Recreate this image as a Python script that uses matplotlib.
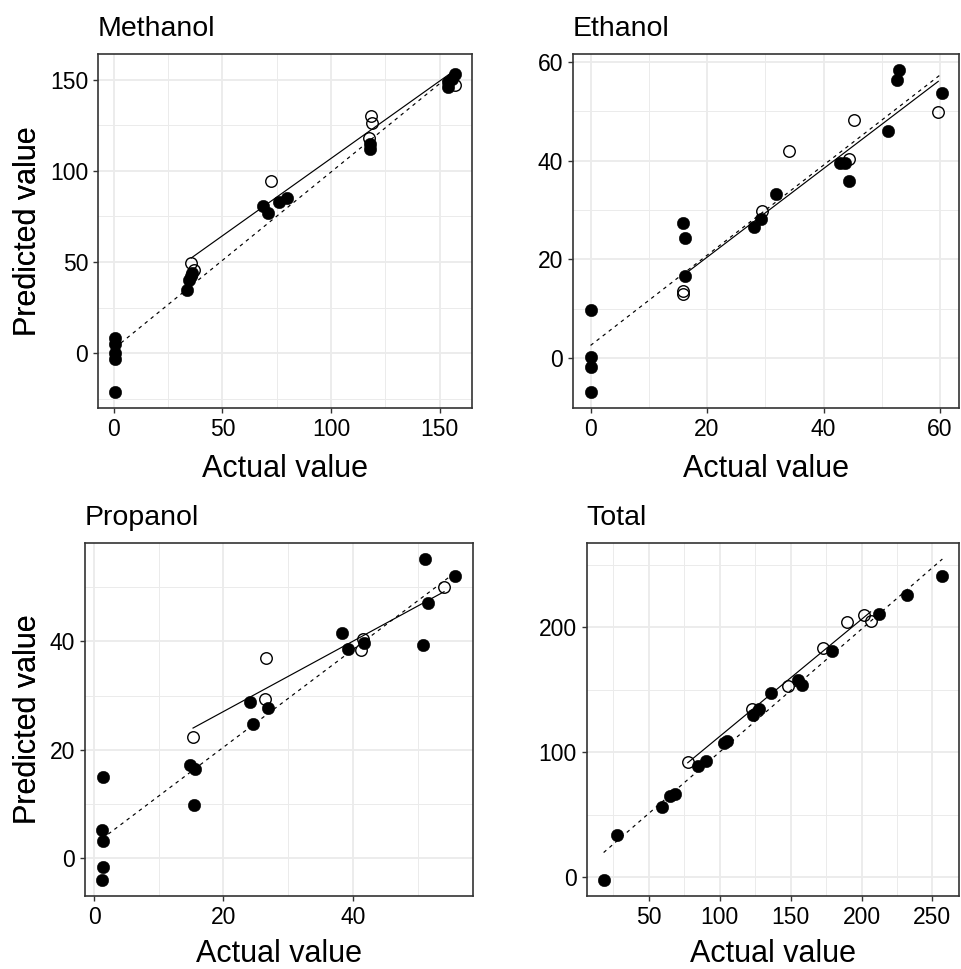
import numpy as np
import matplotlib
matplotlib.use("Agg")
import matplotlib.pyplot as plt
from matplotlib.ticker import MultipleLocator
from matplotlib.transforms import blended_transform_factory

plt.rcParams['font.family'] = ['Liberation Sans', 'DejaVu Sans']

# ---------------- data ----------------
titles = ["Methanol", "Ethanol", "Propanol", "Total"]

meth_train_x = [0.5, 0.5, 0.5, 0.5, 0.5, 33.7, 34.7, 35.3, 36.0, 68.8, 71.1, 76.0, 79.8,
                118.0, 117.8, 154.0, 157.1, 155.6, 154.0]
meth_train_y = [8.2, 5.1, 0.0, -3.1, -21.4, 34.4, 39.9, 42.2, 44.0, 80.7, 76.9, 82.9, 85.1,
                114.9, 112.2, 148.7, 153.3, 150.5, 146.0]
meth_test_x = [35.6, 36.7, 72.2, 118.2, 118.8, 117.4, 157.1]
meth_test_y = [49.4, 45.8, 94.2, 129.9, 126.2, 117.7, 146.9]

eth_train_x = [0.1, 0.1, 0.0, 0.1, 15.9, 16.2, 16.2, 28.0, 29.2, 31.9, 42.8, 43.7, 44.3,
               51.1, 52.6, 53.0, 60.3]
eth_train_y = [9.8, 0.2, -1.8, -6.9, 27.4, 24.4, 16.6, 26.5, 28.2, 33.2, 39.6, 39.5, 35.9,
               46.0, 56.4, 58.3, 53.8]
eth_test_x = [15.9, 15.9, 29.4, 34.0, 44.4, 45.2, 59.7]
eth_test_y = [13.6, 13.0, 29.8, 42.0, 40.3, 48.3, 49.9]

prop_train_x = [1.34, 1.25, 1.44, 1.34, 1.30, 14.8, 15.6, 15.5, 24.1, 24.5, 26.9, 38.4, 39.2,
                41.8, 51.1, 50.9, 51.6, 55.8]
prop_train_y = [15.0, 5.3, 3.2, -1.7, -4.0, 17.2, 16.4, 9.75, 28.9, 24.8, 27.7, 41.5, 38.6,
                39.7, 55.2, 39.3, 47.0, 52.0]
prop_test_x = [15.3, 26.6, 26.5, 41.3, 41.5, 54.1]
prop_test_y = [22.3, 37.0, 29.4, 38.5, 40.5, 50.0]

tot_train_x = [18.2, 27.6, 59.3, 64.9, 68.6, 85.0, 90.6, 103.0, 105.0, 123.3, 127.9, 135.9,
               155.5, 157.8, 179.3, 212.5, 231.8, 257.0]
tot_train_y = [-2.2, 33.8, 56.4, 64.9, 66.2, 89.1, 93.1, 107.0, 109.0, 129.5, 134.9, 147.6,
               157.5, 154.0, 180.9, 210.7, 225.9, 240.7]
tot_test_x = [77.5, 122.5, 148.5, 173.0, 189.8, 201.7, 206.4]
tot_test_y = [92.0, 134.3, 152.7, 183.0, 203.8, 209.9, 205.3]

x_label = "Actual value"
y_label = "Predicted value"

# ---------------- layout ----------------
W, H = 961, 969
fig = plt.figure(figsize=(W / 100, H / 100), dpi=100)

panels_px = [(98, 54, 472, 408.3), (573, 54.3, 959.3, 408.3),
             (84.5, 543, 472.7, 896), (586.7, 543, 959.3, 896)]
xlabel_base_px = [477.3, 477.3, 961.5, 961.5]
major_steps = [(50, 50), (20, 20), (20, 20), (50, 100)]

datasets = [
    (meth_train_x, meth_train_y, meth_test_x, meth_test_y),
    (eth_train_x, eth_train_y, eth_test_x, eth_test_y),
    (prop_train_x, prop_train_y, prop_test_x, prop_test_y),
    (tot_train_x, tot_train_y, tot_test_x, tot_test_y),
]

border_col = '#333333'
grid_col = '#EBEBEB'

for i, ((x0, y0, x1, y1), (trx, tr_y, tex, tey)) in enumerate(zip(panels_px, datasets)):
    ax = fig.add_axes([x0 / W, 1 - y1 / H, (x1 - x0) / W, (y1 - y0) / H])
    trx = np.asarray(trx); tr_y = np.asarray(tr_y)
    tex = np.asarray(tex); tey = np.asarray(tey)

    ax.plot(trx, tr_y, 'o', ms=9.0, mfc='black', mec='black', mew=0.3, ls='none', zorder=3)
    ax.plot(tex, tey, 'o', ms=8.3, mfc='none', mec='black', mew=1.0, ls='none', zorder=3)

    # regression lines (train dashed, test solid)
    b1, b0 = np.polyfit(trx, tr_y, 1)
    xs = np.array([trx.min(), trx.max()])
    ax.plot(xs, b0 + b1 * xs, color='black', lw=0.85, ls=(0, (3, 3.5)), zorder=4)
    c1, c0 = np.polyfit(tex, tey, 1)
    xs2 = np.array([tex.min(), tex.max()])
    ax.plot(xs2, c0 + c1 * xs2, color='black', lw=0.85, ls='-', zorder=4)

    ax.margins(0.05)
    sx, sy = major_steps[i]
    ax.xaxis.set_major_locator(MultipleLocator(sx))
    ax.xaxis.set_minor_locator(MultipleLocator(sx / 2))
    ax.yaxis.set_major_locator(MultipleLocator(sy))
    ax.yaxis.set_minor_locator(MultipleLocator(sy / 2))

    ax.set_axisbelow(True)
    ax.grid(which='major', color=grid_col, lw=1.3)
    ax.grid(which='minor', color=grid_col, lw=0.7)
    for sp in ax.spines.values():
        sp.set_color(border_col)
        sp.set_linewidth(1.2)
    ax.tick_params(which='major', length=3.5, width=1.0, color=border_col,
                   labelsize=16.5, labelcolor='black', pad=3.5)
    ax.tick_params(which='minor', length=0)

    ax.set_xlabel(x_label, fontsize=22, va='baseline')
    ax.xaxis.set_label_coords(0.5, 1 - xlabel_base_px[i] / H,
                              transform=blended_transform_factory(ax.transAxes, fig.transFigure))
    ax.set_ylabel(y_label, fontsize=22, va='baseline')
    ax.yaxis.set_label_coords(36 / W, 0.5,
                              transform=blended_transform_factory(fig.transFigure, ax.transAxes))

    ax.annotate(titles[i], xy=(0, 1), xycoords='axes fraction', xytext=(0, 13.3),
                textcoords='offset points', ha='left', va='baseline', fontsize=20.5)

fig.savefig("out.png", dpi=100)
